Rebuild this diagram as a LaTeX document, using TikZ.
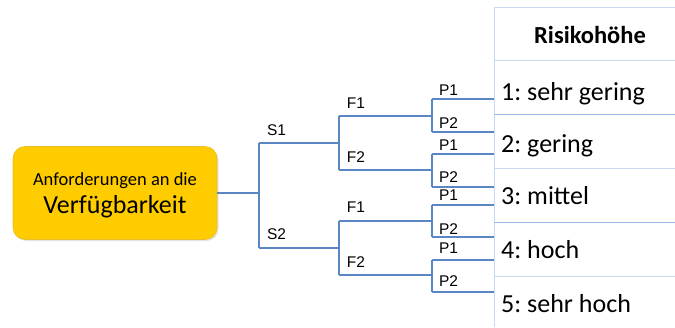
\documentclass[tikz,border=0pt]{standalone}
\usepackage{fontspec}
\setmainfont{Carlito}
\newfontfamily\arialfont{Liberation Sans}
\frenchspacing
\usetikzlibrary{shadows}
\definecolor{treeblue}{HTML}{5A86C4}
\definecolor{tablelight}{HTML}{C8DAF1}
\definecolor{tablemid}{HTML}{9BBBE4}
\definecolor{boxgold}{HTML}{FFCC00}
\definecolor{boxedge}{HTML}{E8BE2A}
\tikzset{
  treeline/.style={draw=treeblue, line width=2.1pt},
  tabline/.style={draw=tablemid, line width=1pt},
  tablight/.style={draw=tablelight, line width=1pt},
  lbl/.style={font=\arialfont\fontsize{15.5}{18}\selectfont, anchor=base, inner sep=0pt},
  rowtxt/.style={font=\fontsize{26}{30}\selectfont, anchor=base west, inner sep=0pt},
  rootbox/.style={draw=boxedge, line width=0.6pt, fill=boxgold, rounded corners=12pt,
    minimum width=204pt, minimum height=93pt, inner sep=0pt,
    drop shadow={shadow xshift=1.5pt, shadow yshift=-1.5pt, fill=black!22}},
}
\begin{document}
\begin{tikzpicture}[x=1pt, y=-1pt]
\useasboundingbox (0,0) rectangle (675,327);
% root box
\node[rootbox] (root) at (115,193) {};
\node[font=\fontsize{18.5}{22}\selectfont, anchor=base, inner sep=0pt] (rt1) at (115,185) {Anforderungen an die};
\node[font=\fontsize{26}{30}\selectfont, anchor=base, inner sep=0pt] (rt2) at (115,213) {Verfügbarkeit};
% junction coordinates
\coordinate (r) at (259,193);
\coordinate (s1) at (259,143); \coordinate (s1e) at (339,143);
\coordinate (s2) at (259,248); \coordinate (s2e) at (339,248);
% S1 -> F
\coordinate (a1) at (339,116); \coordinate (a1e) at (432,116);
\coordinate (a2) at (339,170); \coordinate (a2e) at (432,170);
% S2 -> F
\coordinate (b1) at (339,221); \coordinate (b1e) at (432,221);
\coordinate (b2) at (339,275); \coordinate (b2e) at (432,275);
% P brackets
\coordinate (p11) at (432,99);  \coordinate (p11e) at (494,99);
\coordinate (p12) at (432,132); \coordinate (p12e) at (494,132);
\coordinate (p21) at (432,154); \coordinate (p21e) at (494,154);
\coordinate (p22) at (432,187); \coordinate (p22e) at (494,187);
\coordinate (p31) at (432,205); \coordinate (p31e) at (494,205);
\coordinate (p32) at (432,237); \coordinate (p32e) at (494,237);
\coordinate (p41) at (432,260); \coordinate (p41e) at (494,260);
\coordinate (p42) at (432,292); \coordinate (p42e) at (494,292);
% tree lines
\draw[treeline] (root.east) -- (r);
\draw[treeline] (s1) -- (s2);
\draw[treeline] (s1) -- (s1e);
\draw[treeline] (s2) -- (s2e);
\draw[treeline] (a1) -- (a2);
\draw[treeline] (b1) -- (b2);
\draw[treeline] (a1) -- (a1e);
\draw[treeline] (a2) -- (a2e);
\draw[treeline] (b1) -- (b1e);
\draw[treeline] (b2) -- (b2e);
\foreach \k in {1,2,3,4}{
  \draw[treeline] (p\k1) -- (p\k2);
  \draw[treeline] (p\k1) -- (p\k1e);
  \draw[treeline] (p\k2) -- (p\k2e);
}
% labels
\node[lbl] (ls1) at (276.5,135) {S1};
\node[lbl] (ls2) at (276.5,239) {S2};
\node[lbl] (lf11) at (356,108) {F1};
\node[lbl] (lf12) at (356,162) {F2};
\node[lbl] (lf21) at (356,212) {F1};
\node[lbl] (lf22) at (356,267) {F2};
\node[lbl] (lp1) at (448.5,95) {P1};
\node[lbl] (lp2) at (448.5,128) {P2};
\node[lbl] (lp3) at (448.5,150) {P1};
\node[lbl] (lp4) at (448.5,182) {P2};
\node[lbl] (lp5) at (448.5,200) {P1};
\node[lbl] (lp6) at (448.5,234) {P2};
\node[lbl] (lp7) at (448.5,253) {P1};
\node[lbl] (lp8) at (448.5,286) {P2};
% table
\coordinate (tl) at (494,7); \coordinate (tr) at (675,7);
\coordinate (bl) at (494,327);
\draw[tablight] (tl) -- (tr);
\draw[tablight] (tl) -- (bl);
\foreach \yy/\st in {60/tablight,114/tabline,168/tablight,222/tabline,276/tablight}{
  \draw[\st] (494,\yy) -- (675,\yy);
}
\node[font=\bfseries\fontsize{24.5}{28}\selectfont, anchor=base, inner sep=0pt] (hdr) at (590,43) {Risikohöhe};
\node[rowtxt] (r1) at (501,100) {1: sehr gering};
\node[rowtxt] (r2) at (501,152) {2: gering};
\node[rowtxt] (r3) at (501,204) {3: mittel};
\node[rowtxt] (r4) at (501,258) {4: hoch};
\node[rowtxt] (r5) at (501,312) {5: sehr hoch};
\end{tikzpicture}
\end{document}
